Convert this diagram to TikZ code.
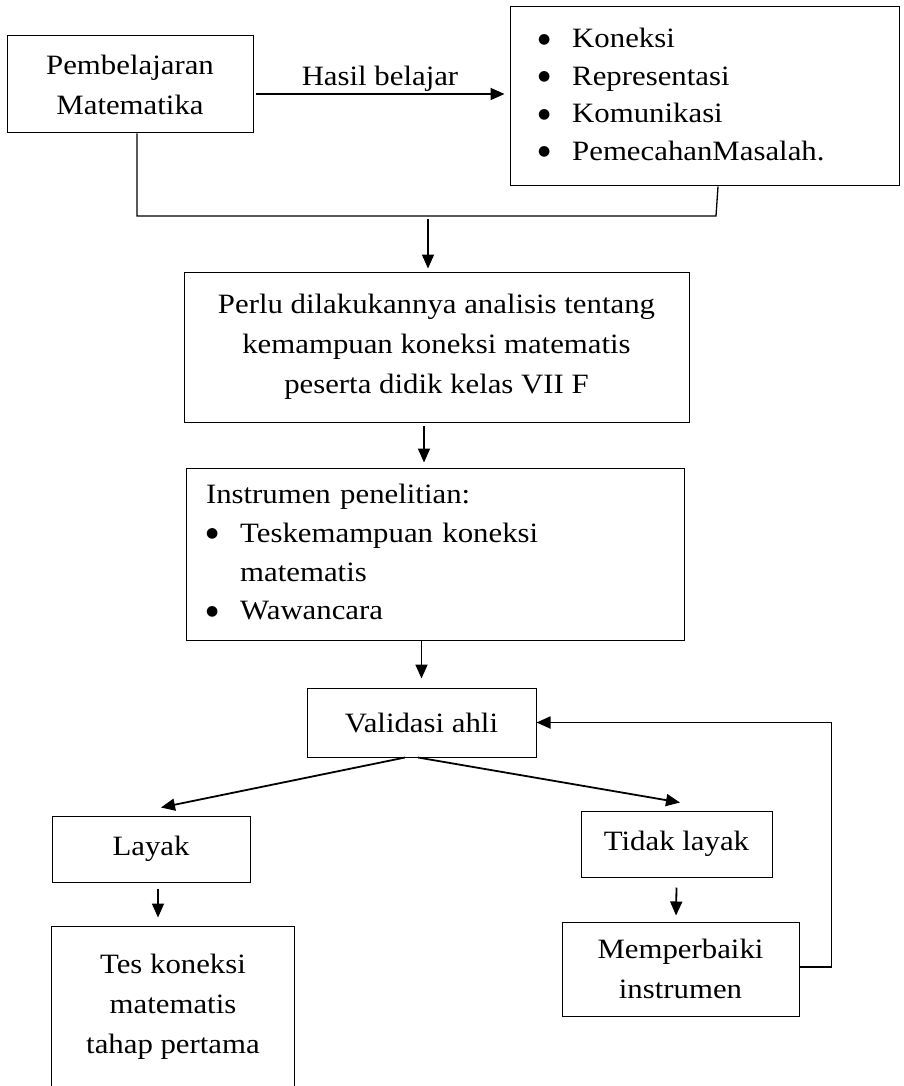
\documentclass[tikz,border=0pt]{standalone}
\usepackage{fontspec}
\setmainfont{Liberation Serif}[FakeStretch=1.1]
\newfontfamily\bulfont{DejaVu Sans}
\newcommand{\bul}{\raisebox{4.5pt}{\bulfont\fontsize{14}{14}\selectfont ●}}
\usetikzlibrary{arrows.meta,calc}
\begin{document}
\begin{tikzpicture}[x=1pt,y=-1pt,
  box/.style={draw, line width=1pt, align=center, inner sep=0pt, font=\fontsize{28}{40}\selectfont},
  arr/.style={line width=1.8pt, -{Triangle[length=14pt,width=12pt]}},
  ln/.style={line width=1.3pt},
  lbl/.style={font=\fontsize{28}{40}\selectfont, inner sep=2pt}]
\useasboundingbox (0,0) rectangle (903,1086);

\node[box, minimum width=246pt, minimum height=97pt] (b1) at (130,84.5) {Pembelajaran\\Matematika};
\node[box, minimum width=389pt, minimum height=179pt, text width=333pt, inner xsep=28pt, align=left] (b2) at (704.5,96.5)
  {\fontsize{28}{37.5}\selectfont\begin{tabular}{@{}l@{\hspace{22pt}}l@{}}
  \bul & Koneksi\\
  \bul & Representasi\\
  \bul & Komunikasi\\
  \bul & PemecahanMasalah.
  \end{tabular}};
\node[box, minimum width=505pt, minimum height=150pt] (b3) at (436.5,347)
  {Perlu dilakukannya analisis tentang\\kemampuan koneksi matematis\\peserta didik kelas VII F};
\node[box, minimum width=498pt, minimum height=172pt, text width=458pt, inner xsep=20pt, align=left] (b4) at (435,554)
  {\fontsize{28}{38.7}\selectfont\begin{tabular}{@{}l@{\hspace{22pt}}l@{}}
  \multicolumn{2}{@{}l@{}}{Instrumen penelitian:}\\
  \bul & Teskemampuan koneksi\\
   & matematis\\
  \bul & Wawancara
  \end{tabular}};
\node[box, minimum width=229pt, minimum height=69pt] (b5) at (421.5,722.5) {Validasi ahli};
\node[box, minimum width=198pt, minimum height=66pt] (lay) at (151,849) {Layak};
\node[box, minimum width=191pt, minimum height=66pt] (tid) at (676.5,844) {Tidak layak};
\node[box, minimum width=237pt, minimum height=94pt] (mem) at (680.5,969) {Memperbaiki\\instrumen};
\node[box, draw=none, minimum width=242pt, minimum height=159pt] (tes) at (173,1006.5) {Tes koneksi\\matematis\\tahap pertama};
\draw[line width=1pt] (tes.south west) -- (tes.north west) -- (tes.north east) -- (tes.south east);

% connectors
\draw[arr] ($(b1.east)+(2,9.5)$) -- node[lbl, above]{Hasil belajar} ($(b2.west)+(-5,-2.5)$);
\coordinate (jr) at (716,216);
\coordinate (j) at (428,216);
\draw[ln] ($(b1.south)+(7,0)$) |- (jr) -- ($(b2.south)+(13.5,0)$);
\draw[arr, shorten >=3pt] ($(j)+(0,3)$) -- (j |- b3.north);
\draw[arr] ($(b3.south)+(-12.5,3)$) -- ($(b4.north)+(-11,-5)$);
\draw[arr] (b4.south -| b5.north) -- ($(b5.north)+(0,-9)$);
\draw[arr] ($(b5.south)+(-16.5,0)$) -- ($(lay.north)+(10,-8)$);
\draw[arr] ($(b5.south)+(-3.5,0)$) -- ($(tid.north)+(3.5,-8)$);
\draw[arr] ($(lay.south)+(7,6)$) -- ($(tes.north)+(-15,-9)$);
\draw[arr] ($(tid.south)+(0,10)$) -- ($(mem.north)+(-4.5,-6)$);
\draw[arr] ($(mem.east)+(0,-2)$) -- ++(32,0) |- (b5.east);
\end{tikzpicture}
\end{document}
